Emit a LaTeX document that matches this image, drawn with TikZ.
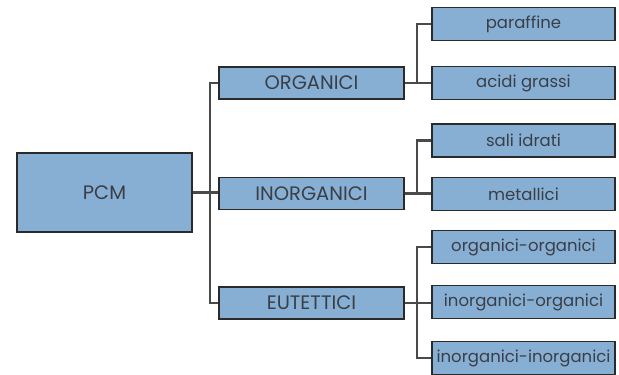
\documentclass[tikz,border=0pt]{standalone}
\usepackage{fontspec}
\setmainfont{Poppins}
\definecolor{boxblue}{HTML}{87AFD4}
\definecolor{boxline}{HTML}{2A2A2A}
\definecolor{txtgray}{HTML}{3A3E46}
\definecolor{linkgray}{HTML}{4A4A4A}
\tikzset{
  cat/.style={draw=boxline, line width=1.8pt, fill=boxblue, text=txtgray,
    minimum width=185pt, minimum height=32pt, inner sep=0pt, font=\fontsize{19.5}{20}\selectfont},
  leaf/.style={cat, minimum width=183pt, minimum height=33pt, font=\fontsize{16.5}{17}\selectfont},
  link/.style={draw=linkgray, line width=2.2pt}
}
\begin{document}
\begin{tikzpicture}[x=1pt, y=-1pt]
    \useasboundingbox (0,0) rectangle (619,375);

    % root
    \node[cat, minimum width=175pt, minimum height=79pt] (pcm) at (104.5,192.5) {PCM};

    % first level
    \node[cat] (organici) at (311.5,83) {ORGANICI};
    \node[cat] (inorganici) at (311.5,193.5) {INORGANICI};
    \node[cat] (eutettici) at (311.5,303) {EUTETTICI};

    % second level
    \node[leaf] (paraffine) at (523.5,24) {paraffine};
    \node[leaf] (acidi) at (523.5,83) {acidi grassi};
    \node[leaf] (sali) at (523.5,140.5) {sali idrati};
    \node[leaf] (metallici) at (523.5,194) {metallici};
    \node[leaf] (orgorg) at (523.5,247) {organici-organici};
    \node[leaf] (inorgorg) at (523.5,302) {inorganici-organici};
    \node[leaf] (inorginorg) at (523.5,358) {inorganici-inorganici};

    \begin{scope}[on background layer/.try]
    \draw[link] (organici.west) -- ++(-8,0) |- (eutettici.west);
    \draw[link] (pcm.east) -- (pcm.east -| inorganici.west);

    \draw[link] (paraffine.west) -- ++(-14,0) |- (acidi.west);
    \draw[link] (organici.east) -- (organici.east -| acidi.west);

    \draw[link] (sali.west) -- ++(-14,0) |- (metallici.west);
    \draw[link] (inorganici.east) -- (inorganici.east -| metallici.west);

    \draw[link] (orgorg.west) -- ++(-14,0) |- (inorginorg.west);
    \draw[link] (eutettici.east) -- (eutettici.east -| inorgorg.west);
    \end{scope}

\end{tikzpicture}
\end{document}
